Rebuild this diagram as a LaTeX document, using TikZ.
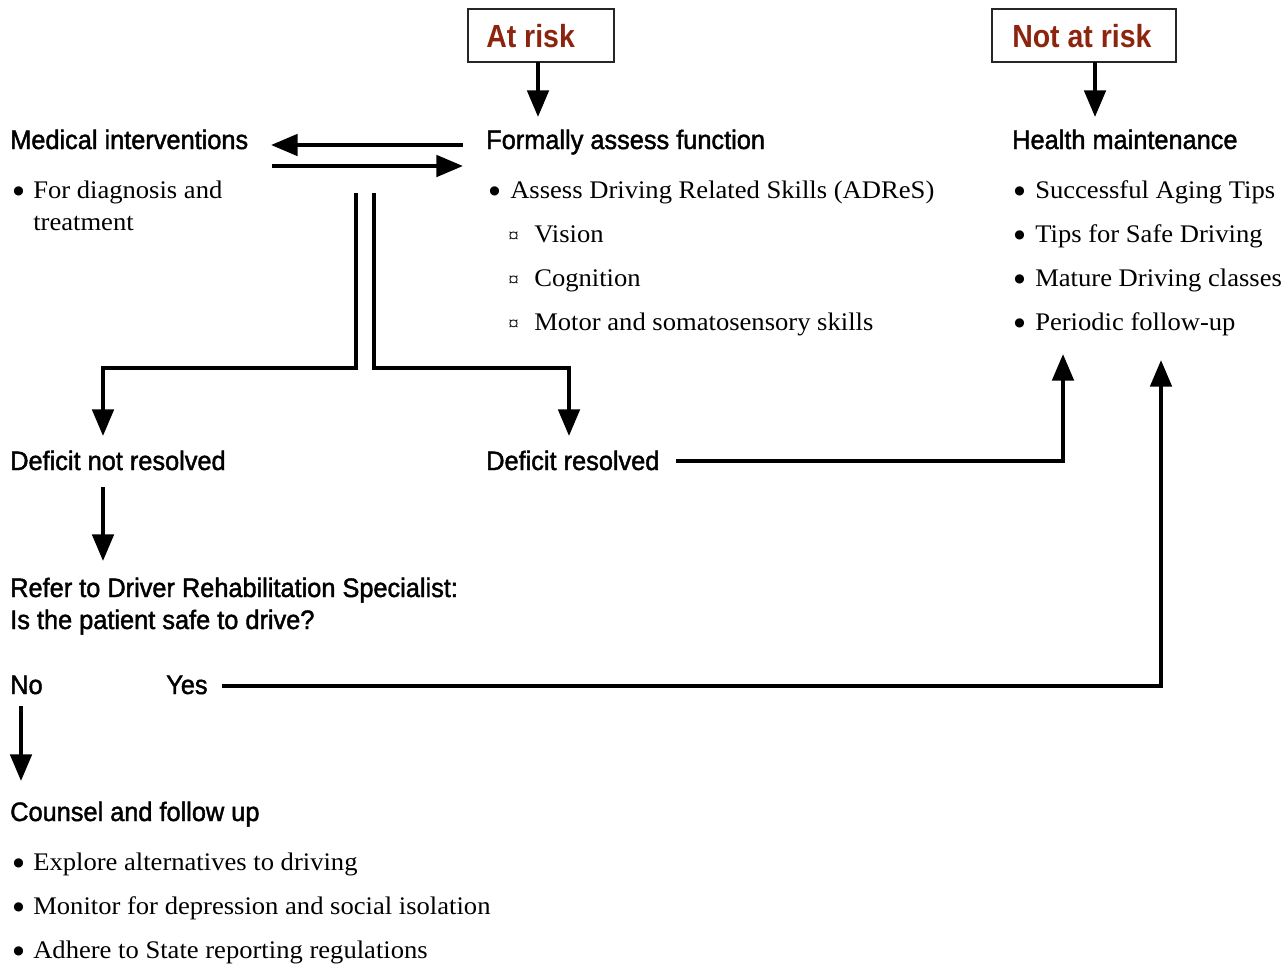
\documentclass[tikz,border=0pt]{standalone}
\usepackage{fontspec}
\usetikzlibrary{arrows.meta}
\setmainfont[FakeStretch=1.05]{Liberation Serif}
\newfontfamily\headfont[FakeBold=1.6,FakeStretch=0.95]{Liberation Sans}
\newfontfamily\riskfont[FakeStretch=0.89]{Liberation Sans Bold}
\newfontfamily\symfont{DejaVu Sans}
\definecolor{riskred}{RGB}{140,36,14}
\newcommand{\bigdot}{{\symfont\fontsize{9}{10}\selectfont\raisebox{2.7pt}{●}}}
\tikzset{
  head/.style={anchor=base west, inner sep=0pt, font=\headfont\fontsize{20}{22}\selectfont},
  body/.style={anchor=base west, inner sep=0pt, font=\fontsize{19}{22}\selectfont},
  dot/.style={anchor=base west, inner sep=0pt},
  sub/.style={anchor=base west, inner sep=0pt, font=\fontsize{15}{16}\selectfont},
  riskbox/.style={draw=black!85, line width=1pt, inner sep=0pt},
  risktext/.style={anchor=base west, inner sep=0pt, text=riskred, font=\riskfont\fontsize{24}{28}\selectfont},
  flow/.style={line width=3pt, -{Triangle[length=20pt,width=16pt]}}
}
\begin{document}
\begin{tikzpicture}[x=0.75pt,y=-0.75pt]
\useasboundingbox (0,0) rectangle (1287,964);
% top boxes
\draw[riskbox] (468,9) rectangle (614,62);
\node[risktext] (atrisk) at (486,47) {At risk};
\draw[riskbox] (992,9) rectangle (1176,62);
\node[risktext] (notrisk) at (1012,47) {Not at risk};
\coordinate (arB) at (538,62);
\coordinate (nrB) at (1095,62);
\coordinate (arT) at (538,117);
\coordinate (nrT) at (1095,117);
\draw[flow] (arB) -- (arT);
\draw[flow] (nrB) -- (nrT);
% headings
\node[head] (med) at (10,149) {Medical interventions};
\node[head] (formal) at (486,149) {Formally assess function};
\node[head] (health) at (1012,149) {Health maintenance};
% medical bullets
\node[dot] (mb) at (13,198) {\bigdot};
\node[body] (m1) at (33,198) {For diagnosis and};
\node[body] (m2) at (33,230) {treatment};
% formal bullets
\node[dot] (fb) at (489,198) {\bigdot};
\node[body] (f1) at (510,198) {Assess Driving Related Skills (ADReS)};
\node[sub] (s1b) at (508,242) {¤};
\node[body] (s1) at (534,242) {Vision};
\node[sub] (s2b) at (508,286) {¤};
\node[body] (s2) at (534,286) {Cognition};
\node[sub] (s3b) at (508,330) {¤};
\node[body] (s3) at (534,330) {Motor and somatosensory skills};
% health bullets
\node[dot] (hb1) at (1014,198) {\bigdot};
\node[body] (h1) at (1035,198) {Successful Aging Tips};
\node[dot] (hb2) at (1014,242) {\bigdot};
\node[body] (h2) at (1035,242) {Tips for Safe Driving};
\node[dot] (hb3) at (1014,286) {\bigdot};
\node[body] (h3) at (1035,286) {Mature Driving classes};
\node[dot] (hb4) at (1014,330) {\bigdot};
\node[body] (h4) at (1035,330) {Periodic follow-up};
% med <-> formal
\coordinate (aL) at (271,145);
\coordinate (aR) at (463,145);
\coordinate (bL) at (272,166);
\coordinate (bR) at (463,166);
\draw[flow] (aR) -- (aL);
\draw[flow] (bL) -- (bR);
% split
\coordinate (vL) at (356,193);
\coordinate (vR) at (374,193);
\coordinate (dnT) at (103,436);
\coordinate (drT) at (569,436);
\draw[flow] (vL) |- (103,368) -- (dnT);
\draw[flow] (vR) |- (569,368) -- (drT);
% deficit
\node[head] (dnr) at (10,470) {Deficit not resolved};
\node[head] (dr) at (486,470) {Deficit resolved};
\coordinate (drE) at (676,461);
\coordinate (hmA) at (1063,354);
\draw[flow] (drE) -| (hmA);
\coordinate (dnB) at (103,487);
\coordinate (refT) at (103,561);
\draw[flow] (dnB) -- (refT);
% refer
\node[head] (ref1) at (10,597) {Refer to Driver Rehabilitation Specialist:};
\node[head] (ref2) at (10,629) {Is the patient safe to drive?};
\node[head] (no) at (10,694) {No};
\node[head] (yes) at (166,694) {Yes};
\coordinate (yesE) at (222,686);
\coordinate (hmB) at (1161,360);
\draw[flow] (yesE) -| (hmB);
\coordinate (noB) at (21,706);
\coordinate (cT) at (21,781);
\draw[flow] (noB) -- (cT);
% counsel
\node[head] (counsel) at (10,821) {Counsel and follow up};
\node[dot] (cb1) at (13,870) {\bigdot};
\node[body] (c1) at (33,870) {Explore alternatives to driving};
\node[dot] (cb2) at (13,914) {\bigdot};
\node[body] (c2) at (33,914) {Monitor for depression and social isolation};
\node[dot] (cb3) at (13,958) {\bigdot};
\node[body] (c3) at (33,958) {Adhere to State reporting regulations};
\end{tikzpicture}
\end{document}
